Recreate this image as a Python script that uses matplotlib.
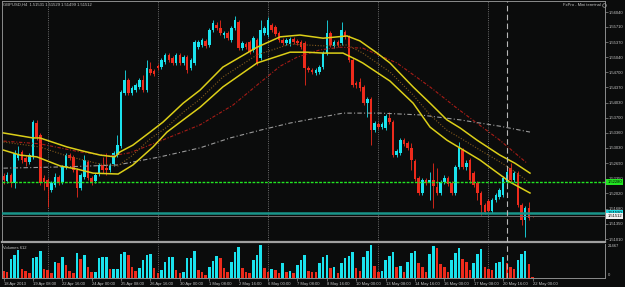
import matplotlib
matplotlib.use("Agg")
import matplotlib.pyplot as plt
from matplotlib.lines import Line2D

plt.rcParams['font.family'] = ['Liberation Sans', 'DejaVu Sans']

# ---------------- data (GBPUSD H4, 18 Apr 2013 - 22 May 2013) ----------------
opens = [1.5241, 1.5230, 1.5243, 1.5225, 1.5281, 1.5294, 1.5281, 1.5272, 1.5283, 1.5358,
         1.5331, 1.5236, 1.5232, 1.5210, 1.5221, 1.5238, 1.5227, 1.5261, 1.5287, 1.5283,
         1.5254, 1.5214, 1.5238, 1.5272, 1.5236, 1.5230, 1.5245, 1.5265, 1.5258, 1.5254,
         1.5267, 1.5287, 1.5307, 1.5425, 1.5453, 1.5425, 1.5431, 1.5438, 1.5453, 1.5431,
         1.5478, 1.5473, 1.5484, 1.5482, 1.5493, 1.5509, 1.5502, 1.5491, 1.5509, 1.5491,
         1.5504, 1.5480, 1.5491, 1.5526, 1.5531, 1.5540, 1.5531, 1.5564, 1.5575, 1.5569,
         1.5553, 1.5557, 1.5542, 1.5569, 1.5582, 1.5524, 1.5533, 1.5538, 1.5520, 1.5542,
         1.5502, 1.5557, 1.5553, 1.5575, 1.5571, 1.5557, 1.5542, 1.5535, 1.5533, 1.5544,
         1.5540, 1.5538, 1.5535, 1.5480, 1.5475, 1.5469, 1.5471, 1.5482, 1.5513, 1.5557,
         1.5529, 1.5538, 1.5535, 1.5560, 1.5549, 1.5498, 1.5447, 1.5449, 1.5438, 1.5402,
         1.5411, 1.5342, 1.5356, 1.5349, 1.5347, 1.5369, 1.5360, 1.5287, 1.5292, 1.5320,
         1.5314, 1.5303, 1.5274, 1.5236, 1.5203, 1.5232, 1.5225, 1.5232, 1.5216, 1.5203,
         1.5227, 1.5236, 1.5225, 1.5203, 1.5261, 1.5298, 1.5261, 1.5276, 1.5247, 1.5225,
         1.5203, 1.5176, 1.5185, 1.5163, 1.5187, 1.5194, 1.5199, 1.5227, 1.5258, 1.5232,
         1.5247, 1.5176, 1.5143, 1.5170, 1.51531]
highs = [1.5247, 1.5250, 1.5247, 1.5298, 1.5307, 1.5298, 1.5285, 1.5292, 1.5365, 1.5365,
         1.5336, 1.5243, 1.5236, 1.5230, 1.5247, 1.5243, 1.5265, 1.5292, 1.5292, 1.5287,
         1.5258, 1.5247, 1.5287, 1.5276, 1.5241, 1.5247, 1.5269, 1.5283, 1.5292, 1.5269,
         1.5296, 1.5331, 1.5431, 1.5475, 1.5458, 1.5440, 1.5447, 1.5458, 1.5464, 1.5498,
         1.5493, 1.5478, 1.5489, 1.5502, 1.5513, 1.5513, 1.5507, 1.5513, 1.5513, 1.5509,
         1.5509, 1.5502, 1.5542, 1.5542, 1.5546, 1.5544, 1.5569, 1.5586, 1.5582, 1.5586,
         1.5562, 1.5562, 1.5573, 1.5595, 1.5586, 1.5540, 1.5538, 1.5542, 1.5551, 1.5546,
         1.5586, 1.5573, 1.5593, 1.5580, 1.5575, 1.5562, 1.5546, 1.5546, 1.5549, 1.5549,
         1.5544, 1.5542, 1.5540, 1.5484, 1.5480, 1.5480, 1.5487, 1.5518, 1.5586, 1.5562,
         1.5542, 1.5542, 1.5582, 1.5564, 1.5553, 1.5502, 1.5451, 1.5458, 1.5442, 1.5416,
         1.5416, 1.5362, 1.5360, 1.5360, 1.5378, 1.5382, 1.5365, 1.5300, 1.5325, 1.5325,
         1.5318, 1.5314, 1.5278, 1.5241, 1.5236, 1.5236, 1.5250, 1.5269, 1.5258, 1.5232,
         1.5243, 1.5241, 1.5230, 1.5265, 1.5316, 1.5303, 1.5276, 1.5281, 1.5252, 1.5230,
         1.5207, 1.5181, 1.5190, 1.5192, 1.5203, 1.5214, 1.5241, 1.5261, 1.5269, 1.5252,
         1.5252, 1.5181, 1.5174, 1.5183, 1.51531]
lows = [1.5223, 1.5225, 1.5216, 1.5214, 1.5276, 1.5269, 1.5263, 1.5267, 1.5278, 1.5320,
        1.5221, 1.5210, 1.5172, 1.5205, 1.5216, 1.5221, 1.5223, 1.5256, 1.5276, 1.5250,
        1.5194, 1.5210, 1.5234, 1.5232, 1.5221, 1.5225, 1.5241, 1.5247, 1.5243, 1.5250,
        1.5263, 1.5283, 1.5303, 1.5420, 1.5420, 1.5420, 1.5427, 1.5433, 1.5427, 1.5427,
        1.5464, 1.5462, 1.5475, 1.5478, 1.5489, 1.5493, 1.5487, 1.5487, 1.5487, 1.5487,
        1.5469, 1.5475, 1.5487, 1.5522, 1.5526, 1.5524, 1.5526, 1.5560, 1.5564, 1.5553,
        1.5546, 1.5542, 1.5538, 1.5564, 1.5520, 1.5520, 1.5522, 1.5511, 1.5515, 1.5487,
        1.5498, 1.5553, 1.5549, 1.5560, 1.5551, 1.5538, 1.5531, 1.5531, 1.5529, 1.5533,
        1.5531, 1.5522, 1.5442, 1.5471, 1.5467, 1.5464, 1.5467, 1.5478, 1.5509, 1.5526,
        1.5524, 1.5526, 1.5531, 1.5544, 1.5493, 1.5438, 1.5436, 1.5429, 1.5398, 1.5372,
        1.5309, 1.5338, 1.5345, 1.5345, 1.5342, 1.5356, 1.5283, 1.5283, 1.5287, 1.5307,
        1.5298, 1.5254, 1.5230, 1.5199, 1.5199, 1.5221, 1.5187, 1.5170, 1.5199, 1.5199,
        1.5223, 1.5218, 1.5199, 1.5199, 1.5256, 1.5256, 1.5254, 1.5225, 1.5216, 1.5187,
        1.5154, 1.5156, 1.5159, 1.5159, 1.5183, 1.5190, 1.5194, 1.5223, 1.5227, 1.5227,
        1.5172, 1.5132, 1.5106, 1.5143, 1.51499]
closes = [1.5232, 1.5243, 1.5225, 1.5292, 1.5287, 1.5276, 1.5272, 1.5287, 1.5360, 1.5327,
          1.5225, 1.5227, 1.5216, 1.5225, 1.5238, 1.5227, 1.5261, 1.5287, 1.5281, 1.5254,
          1.5214, 1.5243, 1.5276, 1.5236, 1.5225, 1.5243, 1.5265, 1.5254, 1.5254, 1.5265,
          1.5292, 1.5309, 1.5427, 1.5453, 1.5425, 1.5436, 1.5442, 1.5453, 1.5431, 1.5480,
          1.5469, 1.5467, 1.5480, 1.5498, 1.5509, 1.5498, 1.5491, 1.5509, 1.5491, 1.5504,
          1.5475, 1.5498, 1.5538, 1.5538, 1.5542, 1.5529, 1.5564, 1.5580, 1.5569, 1.5557,
          1.5557, 1.5546, 1.5569, 1.5586, 1.5524, 1.5535, 1.5526, 1.5515, 1.5546, 1.5491,
          1.5564, 1.5569, 1.5586, 1.5564, 1.5555, 1.5542, 1.5535, 1.5542, 1.5544, 1.5538,
          1.5535, 1.5526, 1.5480, 1.5475, 1.5471, 1.5475, 1.5482, 1.5513, 1.5557, 1.5531,
          1.5538, 1.5531, 1.5564, 1.5549, 1.5498, 1.5442, 1.5442, 1.5436, 1.5402, 1.5411,
          1.5342, 1.5358, 1.5349, 1.5356, 1.5374, 1.5360, 1.5287, 1.5296, 1.5320, 1.5312,
          1.5303, 1.5276, 1.5234, 1.5203, 1.5232, 1.5225, 1.5232, 1.5218, 1.5203, 1.5227,
          1.5236, 1.5223, 1.5203, 1.5261, 1.5303, 1.5261, 1.5269, 1.5232, 1.5221, 1.5203,
          1.5176, 1.5161, 1.5163, 1.5187, 1.5199, 1.5210, 1.5236, 1.5250, 1.5232, 1.5247,
          1.5176, 1.5143, 1.5170, 1.5147, 1.51512]
volumes = [4350, 3840, 11650, 14400, 17600, 5250, 4160, 3070, 12290, 13310,
           16960, 5250, 4800, 2690, 10110, 9600, 13310, 8000, 4350, 3200,
           15490, 11650, 14400, 6910, 3710, 3840, 12290, 12930, 13310, 5250,
           5440, 5630, 14850, 16510, 14400, 6910, 4350, 5890, 11200, 14400,
           14850, 5890, 3070, 4800, 10110, 12930, 13120, 4800, 2690, 3330,
           12290, 12800, 17150, 4800, 3330, 1600, 6910, 10750, 13950, 12290,
           5890, 3710, 10110, 16510, 19710, 5890, 3710, 2690, 11200, 14400,
           20800, 5890, 3840, 5760, 5120, 3070, 9090, 3710, 4160, 3070,
           8000, 11200, 14400, 4160, 3840, 3330, 9090, 13310, 14400, 5890,
           6910, 3070, 9470, 12290, 13760, 16510, 5890, 4350, 13310, 16960,
           20800, 7360, 3710, 4160, 11200, 13760, 16510, 6910, 7360, 3710,
           10110, 15870, 16960, 9470, 6910, 3710, 14850, 20160, 18690, 8640,
           6910, 3710, 11200, 15490, 18690, 11840, 10110, 4800, 9470, 15040,
           18050, 6530, 5440, 4800, 9470, 10110, 13310, 9470, 6910, 5250,
           11200, 15040, 16960, 8640, 612]

# indicator lines, read at points (bar position, price)
upper_x = [0, 8.0, 9.9, 17.3, 21.6, 26.3, 30.3, 31.7, 35.2, 39.9, 43.4, 48.9, 53.5, 59.7, 69.0,
           75.3, 80.7, 87.0, 93.5, 97.0, 101.7, 105.2, 111.5, 116.1, 120.7, 124.3, 128.9, 135.1, 139.2, 143.3]
upper_y = [1.5336, 1.5325, 1.5325, 1.5305, 1.5296, 1.5287, 1.5283, 1.5294, 1.5309, 1.5338, 1.5360, 1.5402,
           1.5431, 1.5482, 1.5526, 1.5549, 1.5553, 1.5546, 1.5551, 1.5540, 1.5513, 1.5491, 1.5438, 1.5402,
           1.5365, 1.5347, 1.5320, 1.5287, 1.5269, 1.5247]
lower_x = [0, 4.5, 9.1, 15.4, 20.0, 24.4, 31.2, 35.2, 40.7, 44.5, 48.9, 53.5, 59.7, 69.0, 78.0, 82.6,
           87.0, 92.4, 96.2, 97.8, 105.2, 111.5, 116.1, 120.7, 129.7, 137.9, 143.3]
lower_y = [1.5298, 1.5287, 1.5283, 1.5263, 1.5256, 1.5247, 1.5245, 1.5265, 1.5305, 1.5338, 1.5365, 1.5393,
           1.5438, 1.5491, 1.5515, 1.5515, 1.5513, 1.5513, 1.5498, 1.5491, 1.5451, 1.5402, 1.5349, 1.5320,
           1.5276, 1.5227, 1.5203]
mid_x = [0, 9.9, 17.3, 26.3, 31.2, 35.2, 39.9, 44.5, 48.9, 53.5, 59.7, 69.0, 78.0, 87.0, 93.5, 97.8,
         105.2, 111.5, 116.1, 120.7, 124.3, 129.7, 135.1, 139.2, 143.3]
mid_y = [1.5316, 1.5305, 1.5285, 1.5267, 1.5263, 1.5287, 1.5323, 1.5349, 1.5382, 1.5411, 1.5460, 1.5509,
         1.5533, 1.5529, 1.5531, 1.5513, 1.5471, 1.5420, 1.5376, 1.5342, 1.5325, 1.5298, 1.5272, 1.5250, 1.5225]
slow_x = [0, 9.9, 20.8, 29.0, 34.4, 42.6, 53.5, 62.5, 69.0, 75.3, 79.9, 86.1, 91.6, 97.8, 107.1, 116.1,
          123.4, 135.1, 142.5]
slow_y = [1.5318, 1.5312, 1.5294, 1.5285, 1.5292, 1.5318, 1.5354, 1.5398, 1.5442, 1.5484, 1.5504, 1.5520,
          1.5526, 1.5524, 1.5491, 1.5438, 1.5391, 1.5320, 1.5269]
long_x = [0, 17.3, 30.9, 42.6, 53.5, 61.7, 69.8, 78.0, 92.4, 102.5, 113.4, 124.3, 135.1, 143.3]
long_y = [1.5258, 1.5261, 1.5265, 1.5283, 1.5303, 1.5325, 1.5342, 1.5358, 1.5380, 1.5380, 1.5376, 1.5365,
          1.5351, 1.5338]

price_ticks = [1.56040, 1.55710, 1.55370, 1.55040, 1.54700, 1.54370, 1.54030, 1.53700,
               1.53360, 1.53030, 1.52690, 1.52350, 1.52020, 1.51680, 1.51350, 1.51010]
price_labels = ['%.5f' % p for p in price_ticks]
time_label_bars = [0, 8, 16, 24, 32, 40, 48, 56, 64, 72, 80, 88, 96, 104, 112, 120, 128, 136, 144]
time_labels = ['18 Apr 2013', '19 Apr 08:00', '22 Apr 16:00', '24 Apr 00:00', '25 Apr 08:00',
               '26 Apr 16:00', '30 Apr 00:00', '1 May 08:00', '2 May 16:00', '6 May 00:00',
               '7 May 08:00', '8 May 16:00', '10 May 00:00', '13 May 08:00', '14 May 16:00',
               '16 May 00:00', '17 May 08:00', '20 May 16:00', '22 May 00:00']
separator_bars = [12, 42, 72, 102, 132]
vline_bar = 137
level_green = 1.52280
level_teal = 1.51590
bid = 1.51512
vol_max = 21467
header = 'GBPUSD,H4  1.51531 1.51529 1.51499 1.51512'

# ---------------- style ----------------
W, H = 625, 287
BG = '#0b0c0c'
BULL = '#1ae3ee'
BEAR = '#ee2b1c'
AXC = '#8c8c8c'
TXT = '#c4c4c4'
FS = 3.0

fig = plt.figure(figsize=(W / 100, H / 100), dpi=100, facecolor=BG)


def px_axes(x0, y0, x1, y1):
    a = fig.add_axes([x0 / W, 1 - y1 / H, (x1 - x0) / W, (y1 - y0) / H])
    a.set_facecolor(BG)
    return a


ax = px_axes(2, 1, 605, 242)
axv = px_axes(2, 244, 605, 277.5)

bar_px = 3.674
for a in (ax, axv):
    a.set_xlim(-1.5 / bar_px, (605 - 3.5) / bar_px)
ax.set_ylim(1.509438, 1.562844)
axv.set_ylim(0, vol_max)

n = len(closes)
xs = list(range(n))
cols = [BULL if c > o else BEAR for o, c in zip(opens, closes)]
ax.vlines(xs, lows, highs, colors=cols, lw=0.6, zorder=2)
bottoms = [min(o, c) for o, c in zip(opens, closes)]
heights = [max(abs(c - o), 0.00005) for o, c in zip(opens, closes)]
ax.bar(xs, heights, bottom=bottoms, width=0.7, color=cols, lw=0, zorder=2)

# indicator lines
ax.plot(long_x, long_y, color='#9a9a9a', lw=0.8, ls=(0, (4, 2, 1, 2)), zorder=3)
ax.plot(slow_x, slow_y, color='#a81c16', lw=0.8, ls=(0, (3, 1.5, 1, 1.5)), zorder=3)
ax.plot(mid_x, mid_y, color='#80581c', lw=0.8, ls=(0, (1, 1.5)), zorder=3)
ax.plot(upper_x, upper_y, color='#dccf18', lw=1.1, zorder=3)
ax.plot(lower_x, lower_y, color='#dccf18', lw=1.1, zorder=3)

# horizontal levels
ax.axhline(level_green, color='#22e622', lw=1.0, ls=(0, (2, 1)), zorder=4)
ax.axhline(level_teal, color='#19958a', lw=1.8, zorder=4)
ax.axhline(bid, color='#6e6e6e', lw=0.7, zorder=4)

# vertical separators
for a in (ax, axv):
    for b in separator_bars:
        a.axvline(b, color='#6c6c6c', lw=0.7, ls=(0, (1, 1.3)), zorder=1)
    a.axvline(vline_bar, color='#b8b8b8', lw=0.8, ls=(0, (5, 3)), zorder=5)

# volumes
vcols = [BULL if i > 0 and volumes[i] > volumes[i - 1] else BEAR for i in range(n)]
axv.bar(xs, volumes, width=0.7, color=vcols, lw=0, zorder=2)

# spines
for a in (ax, axv):
    for s in a.spines.values():
        s.set_color(AXC)
        s.set_linewidth(0.7)
ax.spines['bottom'].set_linewidth(1.6)
ax.spines['bottom'].set_color('#a0a0a0')
axv.spines['top'].set_visible(False)

# axes ticks
ax.yaxis.tick_right()
ax.set_yticks(price_ticks)
ax.set_yticklabels(price_labels)
ax.tick_params(axis='y', direction='out', length=2, width=0.5, color=AXC,
               labelsize=FS, labelcolor=TXT, pad=1)
ax.set_xticks([])

axv.yaxis.tick_right()
axv.set_yticks([0, vol_max])
axv.set_yticklabels(['0', str(vol_max)])
axv.tick_params(axis='y', direction='out', length=0, labelsize=FS, labelcolor=TXT, pad=2)
ylabs = axv.get_yticklabels()
ylabs[0].set_va('bottom')
ylabs[1].set_va('top')
axv.set_xticks(time_label_bars)
axv.set_xticklabels(time_labels, ha='left')
axv.tick_params(axis='x', direction='out', length=2, width=0.5, color=AXC,
                labelsize=FS, labelcolor=TXT, pad=1)

# price boxes on the right
yt = ax.get_yaxis_transform()
ax.text(1.004, level_green, '%.5f' % level_green, transform=yt, fontsize=FS, color='black',
        va='center', ha='left', clip_on=False, zorder=6,
        bbox=dict(boxstyle='square,pad=0.25', fc='#22e622', ec='none'))
ax.text(1.004, level_teal, '%.5f' % level_teal, transform=yt, fontsize=FS, color='black',
        va='center', ha='left', clip_on=False, zorder=6,
        bbox=dict(boxstyle='square,pad=0.25', fc='#20d8e0', ec='none'))
ax.text(1.004, bid, '%.5f' % bid, transform=yt, fontsize=FS, color='black',
        va='center', ha='left', clip_on=False, zorder=7,
        bbox=dict(boxstyle='square,pad=0.25', fc='#f0f0f0', ec='none'))

# header texts
fig.text(3 / W, 1 - 5 / H, header, fontsize=FS, color=TXT, va='center', ha='left')
fig.text(601 / W, 1 - 5 / H, 'FxPro - Mini terminal', fontsize=FS, color=TXT, va='center', ha='right')
fig.add_artist(Line2D([603.5 / W], [1 - 5 / H], marker='o', ms=2.6, mfc='none', mec='#a0a0a0',
                      mew=0.5, transform=fig.transFigure))
fig.text(3 / W, 1 - 248 / H, 'Volumes 612', fontsize=FS, color=TXT, va='center', ha='left')

fig.savefig('out.png', dpi=100, facecolor=BG)
